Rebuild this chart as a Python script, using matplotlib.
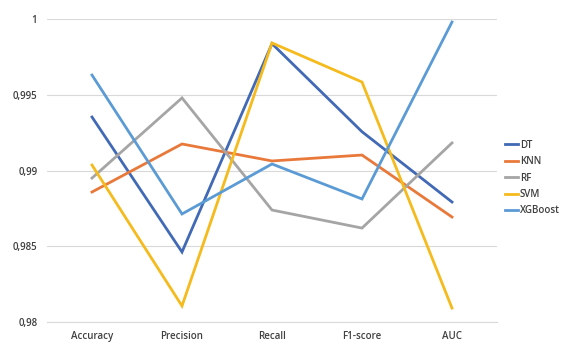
import matplotlib.pyplot as plt

plt.rcParams['font.family'] = ['Open Sans', 'DejaVu Sans']

metrics = ['Accuracy', 'Precision', 'Recall', 'F1-score', 'AUC']

dt = [0.99353, 0.98462, 0.99837, 0.99256, 0.98792]
knn = [0.98858, 0.99175, 0.99063, 0.99102, 0.98693]
rf = [0.98950, 0.99479, 0.98739, 0.98620, 0.99182]
svm = [0.99036, 0.98106, 0.99842, 0.99584, 0.98092]
xgb = [0.99630, 0.98713, 0.99043, 0.98812, 0.99980]

models = ['DT', 'KNN', 'RF', 'SVM', 'XGBoost']
colors = ['#4169B5', '#E9793A', '#A5A5A5', '#F5BA1C', '#5B9BD5']

y_ticks = [0.98, 0.985, 0.99, 0.995, 1.0]
y_labels = ['0,98', '0,985', '0,99', '0,995', '1']

fig = plt.figure(figsize=(5.68, 3.42), dpi=100)
ax = fig.add_axes([47 / 568, 1 - 322 / 342, 450 / 568, 303 / 342])

x = range(len(metrics))
for vals, name, c in zip([dt, knn, rf, svm, xgb], models, colors):
    ax.plot(x, vals, color=c, linewidth=2.0, label=name, solid_joinstyle='miter')

ax.set_xlim(-0.5, len(metrics) - 0.5)
ax.set_ylim(0.98, 1.0)
ax.set_yticks(y_ticks)
ax.set_yticklabels(y_labels)
ax.set_xticks(list(x))
ax.set_xticklabels(metrics)

ax.grid(axis='y', color='#D9D9D9', linewidth=0.8)
ax.set_axisbelow(True)
for s in ['top', 'right', 'left']:
    ax.spines[s].set_visible(False)
ax.spines['bottom'].set_color('#D9D9D9')
ax.spines['bottom'].set_linewidth(0.8)
ax.tick_params(axis='both', length=0, labelsize=7, colors='#404040')
ax.tick_params(axis='x', pad=6.5)
ax.tick_params(axis='y', pad=7)
for lab in ax.get_xticklabels() + ax.get_yticklabels():
    lab.set_fontweight('semibold')

leg = ax.legend(loc='center left', bbox_to_anchor=(1.01, 0.475), frameon=False,
                fontsize=7, handlelength=1.3, handletextpad=0.2, labelspacing=0.55,
                borderaxespad=0)
for t in leg.get_texts():
    t.set_color('#404040')
    t.set_fontweight('semibold')

fig.savefig('out.png', dpi=100)
